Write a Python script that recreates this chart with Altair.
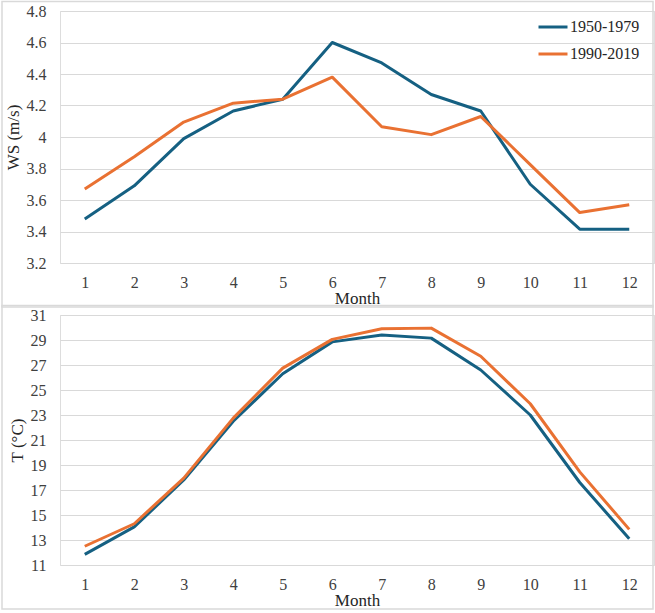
import altair as alt
import pandas as pd

months = list(range(1, 13))
periods = ["1950-1979", "1990-2019"]
ws_1950 = [3.48, 3.69, 3.99, 4.165, 4.24, 4.60, 4.47, 4.27, 4.165, 3.70, 3.415, 3.415]
ws_1990 = [3.67, 3.875, 4.095, 4.215, 4.24, 4.38, 4.065, 4.015, 4.13, 3.825, 3.52, 3.57]
t_1950 = [11.85, 14.05, 17.8, 22.5, 26.3, 28.85, 29.4, 29.15, 26.6, 23.0, 17.6, 13.1]
t_1990 = [12.5, 14.3, 17.95, 22.75, 26.75, 29.05, 29.9, 29.95, 27.7, 23.9, 18.45, 13.85]
ws_ticks = [3.2, 3.4, 3.6, 3.8, 4.0, 4.2, 4.4, 4.6, 4.8]
t_ticks = [11, 13, 15, 17, 19, 21, 23, 25, 27, 29, 31]
colors = ["#156082", "#E97132"]

ws_df = pd.DataFrame({
    "Month": months * 2,
    "Period": [periods[0]] * 12 + [periods[1]] * 12,
    "Value": ws_1950 + ws_1990,
})
t_df = pd.DataFrame({
    "Month": months * 2,
    "Period": [periods[0]] * 12 + [periods[1]] * 12,
    "Value": t_1950 + t_1990,
})

FONT = "Liberation Serif"
W = 594

x_enc = alt.X(
    "Month:O",
    scale=alt.Scale(type="point", padding=0.5),
    axis=alt.Axis(
        title="Month", labelAngle=0, labelFontSize=16, titleFontSize=17,
        labelPadding=11, titlePadding=0, ticks=False, domain=False, grid=False,
        labelColor="#404040", titleColor="#262626", titleFontWeight="normal",
        labelFont=FONT, titleFont=FONT,
    ),
)

color_enc = alt.Color(
    "Period:N",
    scale=alt.Scale(domain=periods, range=colors),
    legend=alt.Legend(
        title=None, orient="none", legendX=477, legendY=0,
        symbolType="stroke", symbolSize=841, symbolStrokeWidth=3,
        labelFontSize=16, labelFont=FONT, labelColor="#262626",
        rowPadding=3, labelOffset=1,
    ),
)


def panel(df, ytitle, domain, ticks, fmt, h):
    border = alt.Chart(pd.DataFrame({"b": [1]})).mark_rect(
        fill=None, stroke="#d9d9d9", strokeWidth=1.5
    ).encode(
        x=alt.value(-58), x2=alt.value(W - 1), y=alt.value(-9.5), y2=alt.value(h + 44)
    )
    lines = alt.Chart(df).mark_line(strokeWidth=3, strokeJoin="round").encode(
        x=x_enc,
        y=alt.Y(
            "Value:Q",
            scale=alt.Scale(domain=domain, nice=False, zero=False),
            axis=alt.Axis(
                title=ytitle, values=ticks, format=fmt, labelFontSize=16,
                titleFontSize=17, labelPadding=14, titlePadding=4,
                ticks=False, domain=False, gridColor="#d9d9d9", gridWidth=1,
                labelColor="#404040", titleColor="#262626",
                titleFontWeight="normal", labelFont=FONT, titleFont=FONT,
            ),
        ),
        color=color_enc,
    )
    return alt.layer(border, lines).properties(width=W, height=h)


top = panel(ws_df, "WS (m/s)", [3.2, 4.8], ws_ticks, ".1~f", 252)
bottom = panel(t_df, "T (°C)", [11, 31], t_ticks, "d", 250)

chart = alt.vconcat(top, bottom, spacing=-5).properties(
    padding={"left": 0, "top": 0, "right": 0, "bottom": 0}
).configure_view(stroke=None).configure(background="white", font=FONT)

chart.save("out.html", embed_options={"renderer": "svg", "actions": False})
